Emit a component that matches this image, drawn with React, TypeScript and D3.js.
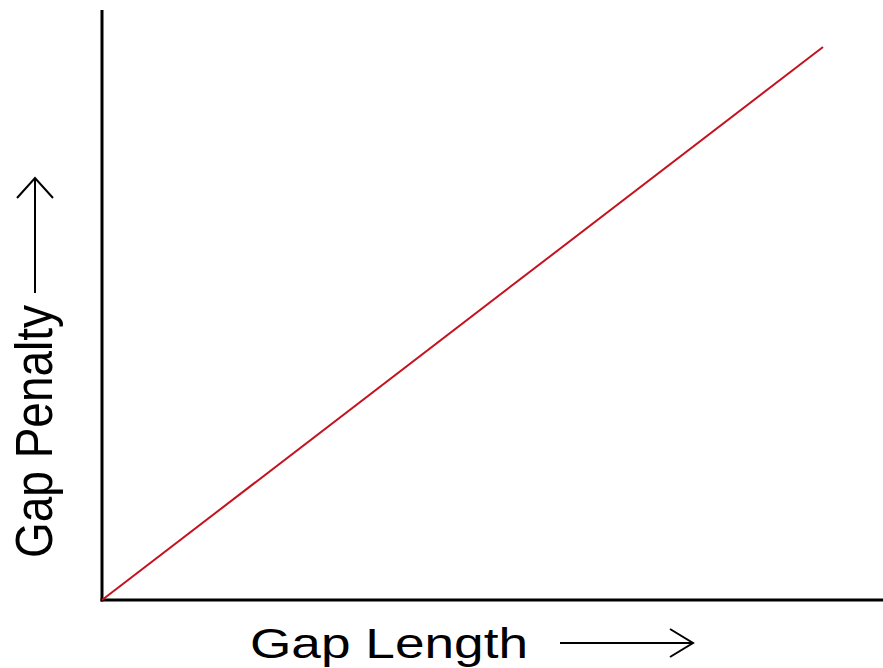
import React from "react";
import * as d3 from "d3";

// Linear gap penalty: the penalty grows in proportion to the gap length.
const gapLengths: number[] = [0, 10];
const gapPenalties: number[] = [0, 10];

const xLabel = "Gap Length";
const yLabel = "Gap Penalty";

const W = 883;
const H = 668;

export default function App() {
  const originX = 102;
  const originY = 600;

  const x = d3.scaleLinear().domain([0, 10]).range([originX, 823]);
  const y = d3.scaleLinear().domain([0, 10]).range([originY, 47]);

  const line = d3
    .line<number>()
    .x((_, i) => x(gapLengths[i]))
    .y((d) => y(d));

  const font = "'Liberation Sans', Arial, sans-serif";

  return (
    <svg
      width={W}
      height={H}
      style={{ position: "absolute", left: 0, top: 0, background: "#fff" }}
    >
      {/* axes */}
      <line x1={originX} y1={10} x2={originX} y2={originY + 1.5} stroke="#000" strokeWidth={3} />
      <line x1={originX - 1.5} y1={originY} x2={W} y2={originY} stroke="#000" strokeWidth={3} />

      {/* penalty line */}
      <path d={line(gapPenalties) ?? ""} fill="none" stroke="#c4121f" strokeWidth={2} />

      {/* x axis title with arrow */}
      <text
        x={250}
        y={658}
        fontFamily={font}
        fontSize={42}
        fill="#000"
        textLength={278}
        lengthAdjust="spacingAndGlyphs"
      >
        {xLabel}
      </text>
      <path d="M560,643 H692" stroke="#000" strokeWidth={2} fill="none" />
      <path d="M670,629 L693,643 L670,657" stroke="#000" strokeWidth={2} fill="none" />

      {/* y axis title with arrow */}
      <text
        transform="translate(52,558) rotate(-90)"
        fontFamily={font}
        fontSize={51}
        fill="#000"
        textLength={253}
        lengthAdjust="spacingAndGlyphs"
      >
        {yLabel}
      </text>
      <path d="M35,293 V179" stroke="#000" strokeWidth={2} fill="none" />
      <path d="M17,198 L35,178 L53,198" stroke="#000" strokeWidth={2} fill="none" />
    </svg>
  );
}
